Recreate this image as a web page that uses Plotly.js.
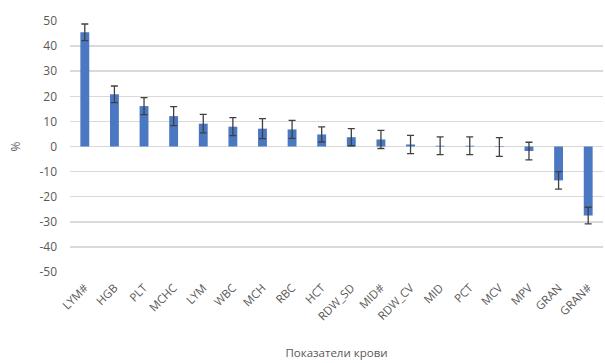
<!DOCTYPE html>
<html><head><meta charset="utf-8">
<script src="https://cdn.plot.ly/plotly-3.0.1.min.js"></script>
<style>html,body{margin:0;padding:0;background:#fff}#c{width:605px;height:363px}</style>
</head><body><div id="c"></div>
<script>
const categories = ["LYM#","HGB","PLT","MCHC","LYM","WBC","MCH","RBC","HCT","RDW_SD","MID#","RDW_CV","MID","PCT","MCV","MPV","GRAN","GRAN#"];
const values = [45.5, 20.8, 16.1, 12.1, 9.1, 7.9, 7.1, 6.8, 4.8, 3.7, 2.8, 0.8, 0.3, 0.3, -0.2, -1.8, -13.5, -27.5];
const errors = [3.3, 3.3, 3.4, 3.8, 3.7, 3.6, 4.0, 3.6, 3.0, 3.4, 3.6, 3.6, 3.5, 3.5, 3.7, 3.5, 3.5, 3.3];
const yTicks = [-50,-40,-30,-20,-10,0,10,20,30,40,50];

const trace = {
  type: 'bar', x: categories, y: values,
  marker: {color: '#4a78c2'},
  error_y: {type: 'data', array: errors, visible: true, color: '#404040', thickness: 1.3, width: 3.5}
};
const layout = {
  width: 605, height: 363,
  margin: {l: 70, r: 2, t: 21, b: 91},
  paper_bgcolor: '#fff', plot_bgcolor: '#fff',
  bargap: 0.7,
  showlegend: false,
  font: {family: 'Open Sans, Liberation Sans, sans-serif', color: '#595959', size: 11},
  xaxis: {
    tickangle: -45, showgrid: false, zeroline: false, showline: false, ticks: '',
    ticklabelstandoff: 6,
    tickfont: {size: 11.5, color: '#595959'},
    title: {text: 'Показатели крови', font: {size: 11.5, color: '#595959'}, standoff: 26}
  },
  yaxis: {
    range: [-50, 50], tickvals: yTicks, ticktext: yTicks.map(String),
    showgrid: true, gridcolor: '#d9d9d9', gridwidth: 1.5,
    zeroline: true, zerolinecolor: '#d9d9d9', zerolinewidth: 1.5,
    showline: false, ticks: '', ticklen: 0,
    ticklabelstandoff: 12,
    tickfont: {size: 12, color: '#595959'},
    title: {text: '%', font: {size: 12, color: '#595959'}, standoff: 16}
  }
};
Plotly.newPlot('c', [trace], layout, {displayModeBar: false, staticPlot: true});
</script></body></html>
